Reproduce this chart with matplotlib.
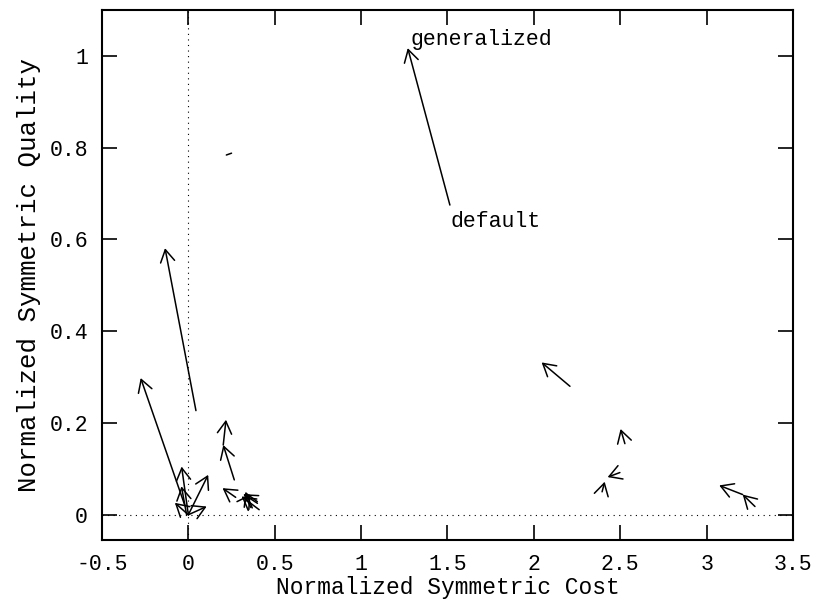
import matplotlib.pyplot as plt
from matplotlib.patches import FancyArrowPatch

# arrow tails (x0, y0) and heads (x1, y1): cost vs quality moves
x0 = [1.514, 0.044, -0.02, 0.0, 0.0, 0.0, 0.0, -0.01,
      0.266, 0.202, 0.274, 0.41, 0.40, 0.37, 0.33,
      2.209, 2.527, 2.498, 2.395, 3.28, 3.209, 0.22]
y0 = [0.675, 0.227, 0.02, 0.0, 0.0, 0.0, 0.0, 0.0,
      0.076, 0.152, 0.038, 0.011, 0.025, 0.015, 0.028,
      0.280, 0.155, 0.092, 0.050, 0.018, 0.044, 0.784]
x1 = [1.27, -0.135, -0.276, 0.115, 0.106, -0.078, -0.039, -0.04,
      0.202, 0.218, 0.198, 0.308, 0.318, 0.33, 0.36,
      2.045, 2.502, 2.427, 2.41, 3.209, 3.073, 0.25]
y1 = [1.017, 0.581, 0.298, 0.087, 0.018, 0.026, 0.105, 0.062,
      0.152, 0.207, 0.058, 0.040, 0.045, 0.05, 0.045,
      0.332, 0.187, 0.082, 0.072, 0.044, 0.064, 0.788]
has_head = [True] * 21 + [False]

xticks = [-0.5, 0, 0.5, 1, 1.5, 2, 2.5, 3, 3.5]
yticks = [0, 0.2, 0.4, 0.6, 0.8, 1]

font = 'Liberation Mono'
fs = 15.5

fig = plt.figure(figsize=(8.17, 6), dpi=100)
ax = fig.add_axes([0.1248, 0.1, 0.8458, 0.8833])
ax.set_xlim(-0.5, 3.5)
ax.set_ylim(-0.055, 1.1)

# zero axes, dotted
ax.axhline(0, color='black', lw=0.8, ls=(0, (1, 4)))
ax.axvline(0, color='black', lw=0.8, ls=(0, (1, 4)))

for i in range(len(x0)):
    style = '->,head_length=0.55,head_width=0.32' if has_head[i] else '-'
    arr = FancyArrowPatch((x0[i], y0[i]), (x1[i], y1[i]), arrowstyle=style,
                          mutation_scale=16, lw=1.1, color='black',
                          shrinkA=0, shrinkB=0)
    ax.add_patch(arr)

ax.text(1.285, 1.035, 'generalized', fontsize=fs, family=font, ha='left', va='center')
ax.text(1.52, 0.64, 'default', fontsize=fs, family=font, ha='left', va='center')

ax.set_xticks(xticks)
ax.set_xticklabels(['-0.5', '0', '0.5', '1', '1.5', '2', '2.5', '3', '3.5'])
ax.set_yticks(yticks)
ax.set_yticklabels(['0', '0.2', '0.4', '0.6', '0.8', '1'])
ax.tick_params(direction='in', length=11, width=1.2, top=True, right=True,
               labelsize=fs, pad=10)
for lab in ax.get_xticklabels() + ax.get_yticklabels():
    lab.set_family(font)
for sp in ax.spines.values():
    sp.set_linewidth(1.5)

ax.set_xlabel('Normalized Symmetric Cost', fontsize=16.5, family=font, labelpad=1)
ax.set_ylabel('Normalized Symmetric Quality', fontsize=18.5, family=font, labelpad=6)

fig.savefig('out.png', dpi=100)
